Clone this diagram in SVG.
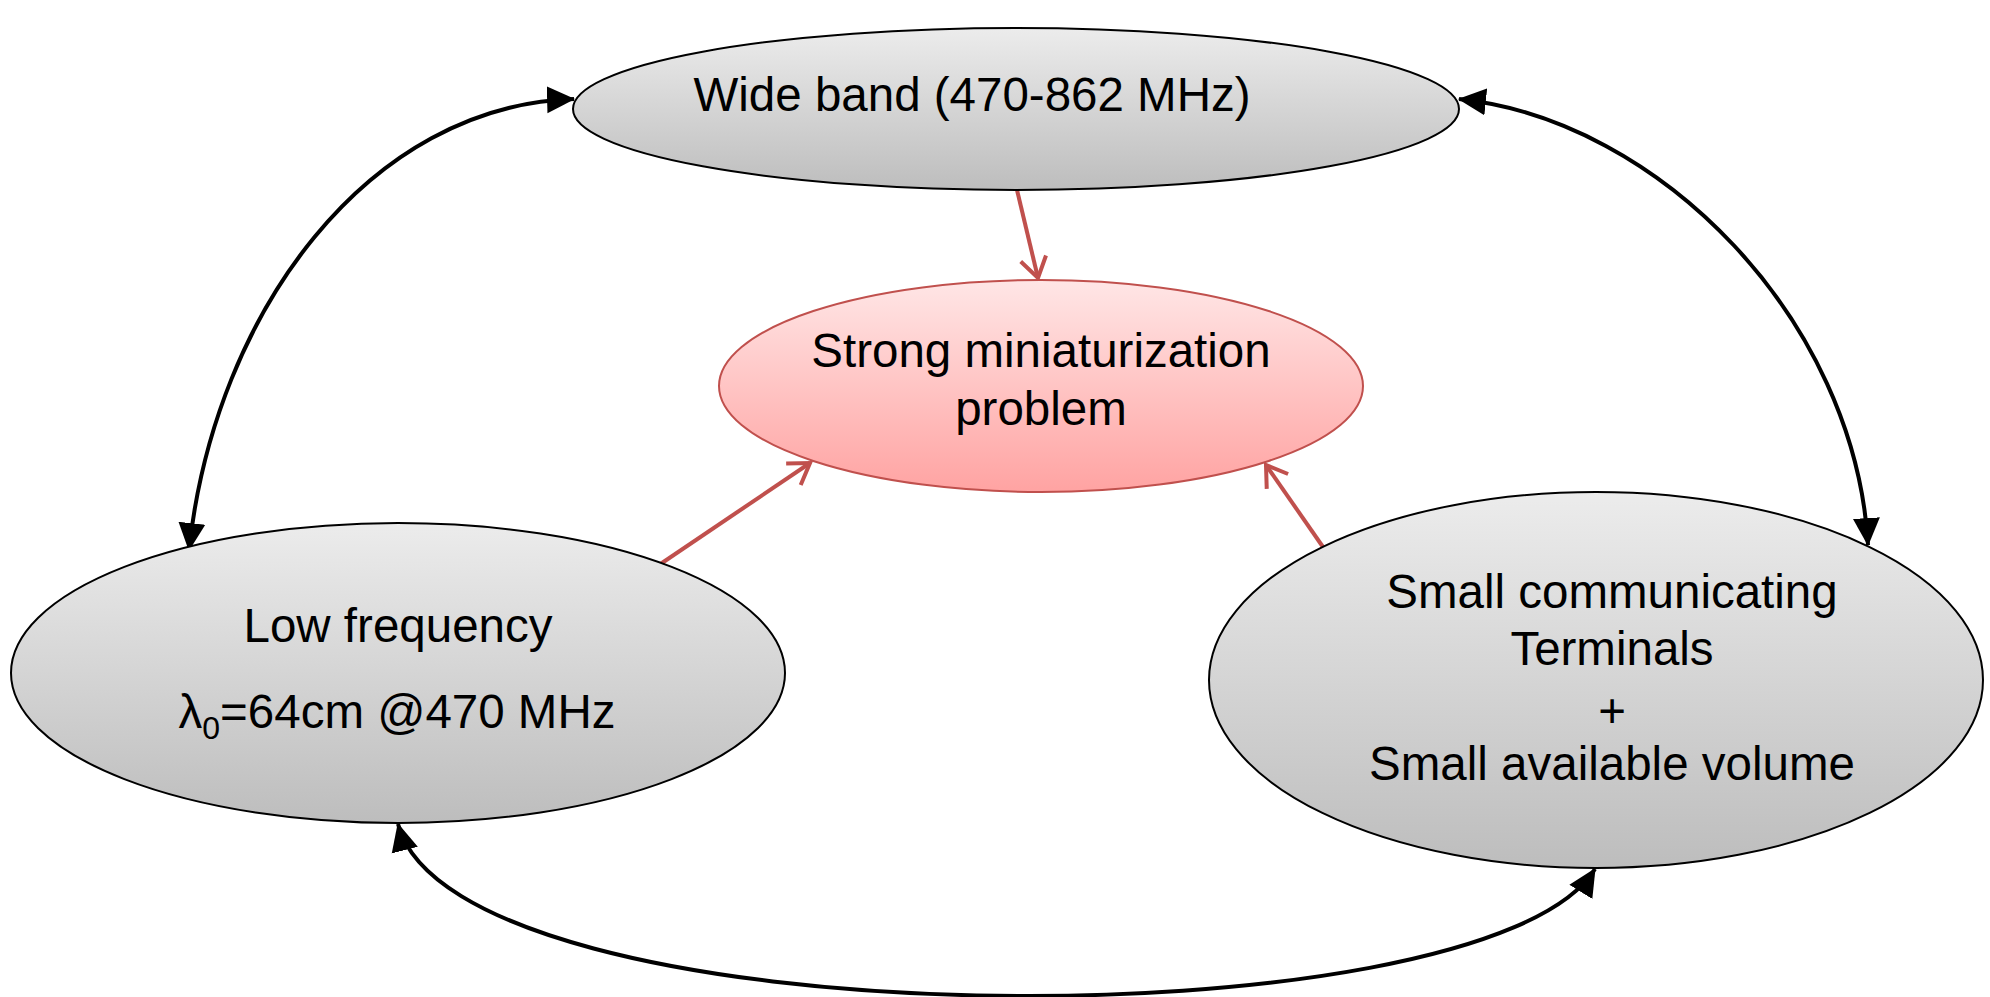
<svg xmlns="http://www.w3.org/2000/svg" width="1990" height="997" viewBox="0 0 1990 997">
<style>
.lbl{font-family:"Liberation Sans",Arial,sans-serif;font-size:47.5px;fill:#000;text-anchor:middle}
.gnode{fill:url(#gGray);stroke:#000;stroke-width:2}
.rnode{fill:url(#gRed);stroke:#c0504d;stroke-width:2}
.bi{fill:none;stroke:#000;stroke-width:4;marker-start:url(#ah);marker-end:url(#ah)}
.red{fill:none;stroke:#c0504d;stroke-width:4;marker-end:url(#rh)}
</style>
<defs>
<linearGradient id="gGray" x1="0" y1="0" x2="0" y2="1">
<stop offset="0" stop-color="#ececec"/>
<stop offset="1" stop-color="#bdbdbd"/>
</linearGradient>
<linearGradient id="gRed" x1="0" y1="0" x2="0" y2="1">
<stop offset="0" stop-color="#ffe6e6"/>
<stop offset="1" stop-color="#ffa3a2"/>
</linearGradient>
<marker id="ah" markerUnits="userSpaceOnUse" markerWidth="28" markerHeight="28" viewBox="0 0 26 26" refX="25" refY="13" orient="auto-start-reverse">
<path d="M0,0.5 L26,13 L0,25.5 z" fill="#000"/>
</marker>
<marker id="rh" markerUnits="userSpaceOnUse" markerWidth="32" markerHeight="32" viewBox="0 0 32 32" refX="25" refY="16" orient="auto">
<path d="M5,3 L25,16 L5,29" fill="none" stroke="#c0504d" stroke-width="4" stroke-linejoin="miter"/>
</marker>
</defs>
<rect width="1990" height="997" fill="#fff"/>
<g id="connectors">
<path class="bi" d="M574,99 C370,105 215,310 189,550"/>
<path class="bi" d="M1459,99 C1660,120 1855,320 1868,545"/>
<path class="bi" d="M398,824 C455,1043 1485,1047 1595,869"/>
<path class="red" d="M1017,190 L1038,278"/>
<path class="red" d="M656,567 L810,463"/>
<path class="red" d="M1323,547 L1266,465"/>
</g>
<g id="node-wideband">
<ellipse class="gnode" cx="1016" cy="109" rx="443" ry="81"/>
<text class="lbl" x="972" y="111">Wide band (470-862 MHz)</text>
</g>
<g id="node-problem">
<ellipse class="rnode" cx="1041" cy="386" rx="322" ry="106"/>
<text class="lbl" x="1041" y="367">Strong miniaturization</text>
<text class="lbl" x="1041" y="425">problem</text>
</g>
<g id="node-lowfreq">
<ellipse class="gnode" cx="398" cy="673" rx="387" ry="150"/>
<text class="lbl" x="398" y="642">Low frequency</text>
<text class="lbl" x="397" y="728">λ<tspan font-size="32" dy="11">0</tspan><tspan dy="-11">=64cm @470 MHz</tspan></text>
</g>
<g id="node-terminals">
<ellipse class="gnode" cx="1596" cy="680" rx="387" ry="188"/>
<text class="lbl" x="1612" y="608">Small communicating</text>
<text class="lbl" x="1612" y="665">Terminals</text>
<text class="lbl" x="1612" y="727">+</text>
<text class="lbl" x="1612" y="780">Small available volume</text>
</g>
</svg>
